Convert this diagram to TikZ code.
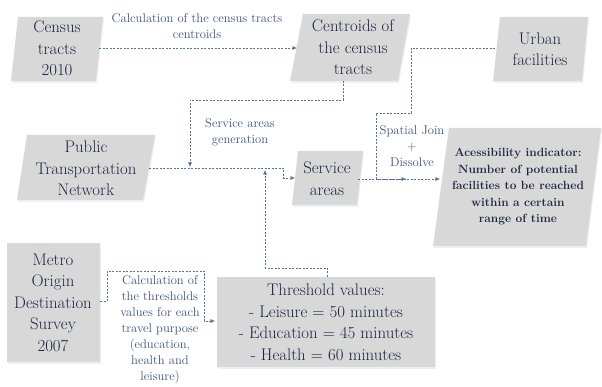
\documentclass[tikz,border=0pt]{standalone}
\usetikzlibrary{arrows.meta}
\definecolor{boxfill}{HTML}{D8D8D8}
\definecolor{boxshade}{HTML}{EDEFF3}
\definecolor{boxtext}{HTML}{1B2645}
\definecolor{linkcol}{HTML}{4F73A0}
\definecolor{labcol}{HTML}{3F5280}
\tikzset{
  shapebox/.style={fill=boxfill},
  shadebox/.style={fill=boxshade},
  boxtxt/.style={text=boxtext, font=\fontsize{16.8}{21.5}\selectfont, align=center, inner sep=0pt},
  boldtxt/.style={text=boxtext, font=\fontsize{11.9}{16.5}\selectfont\bfseries, align=center, inner sep=0pt},
  labtxt/.style={text=labcol, font=\fontsize{12.6}{16}\selectfont, align=center, inner sep=0pt},
  link/.style={draw=linkcol, line width=0.7pt, dash pattern=on 2pt off 1.5pt},
  arr/.style={link, -{Latex[length=4.5pt,width=4pt]}},
}
\begin{document}
\begin{tikzpicture}[x=1pt,y=-1pt]
\useasboundingbox (0,0) rectangle (602,387);
% shadows
\fill[shadebox] (12,83) -- (97,83) -- (104,19) -- (19,19) -- cycle;
\fill[shadebox] (291,83) -- (399,83) -- (411,16) -- (304,16) -- cycle;
\fill[shadebox] (494,83) -- (583,83) -- (589,19) -- (501,19) -- cycle;
\fill[shadebox] (18,202) -- (144,202) -- (156,137) -- (28,137) -- cycle;
\fill[shadebox] (293,207) -- (358,207) -- (364,153) -- (299,153) -- cycle;
\fill[shadebox] (434,248) -- (587,248) -- (602,130) -- (450,130) -- cycle;
\fill[shadebox] (8,245) rectangle (101,364);
\fill[shadebox] (218,279) rectangle (436,369);
% boxes
\fill[shapebox] (11,81) -- (96,81) -- (103,17) -- (18,17) -- cycle;
\fill[shapebox] (290,81) -- (398,81) -- (410,14) -- (303,14) -- cycle;
\fill[shapebox] (493,81) -- (582,81) -- (588,17) -- (500,17) -- cycle;
\fill[shapebox] (17,200) -- (143,200) -- (155,135) -- (27,135) -- cycle;
\fill[shapebox] (292,205) -- (357,205) -- (363,151) -- (298,151) -- cycle;
\fill[shapebox] (433,246) -- (586,246) -- (601,128) -- (449,128) -- cycle;
\fill[shapebox] (7,243) rectangle (100,362);
\fill[shapebox] (217,277) rectangle (435,367);
% texts
\node[boxtxt] (census) at (57,48.5) {Census\\tracts\\2010};
\node[boxtxt] (centroids) at (353,47.5) {Centroids of\\the census\\tracts};
\node[boxtxt] (urban) at (540,49) {Urban\\facilities};
\node[boxtxt] (ptn) at (86,168.5) {Public\\Transportation\\Network};
\node[boxtxt] (service) at (327,178.5) {Service\\areas};
\node[boldtxt] (access) at (518,187) {Acessibility indicator:\\Number of potential\\facilities to be reached\\within a certain\\range of time};
\node[boxtxt] (metro) at (53,302.5) {Metro\\Origin\\Destination\\Survey\\2007};
\node[boxtxt] (threshold) at (326,322.5) {Threshold values:\\- Leisure = 50 minutes\\- Education = 45 minutes\\- Health = 60 minutes};
% labels
\node[labtxt] (lab1) at (197,26) {Calculation of the census tracts\\centroids};
\node[labtxt] (lab2) at (240,132.5) {Service areas\\generation};
\node[labtxt] (lab3) at (412,146) {Spatial Join\\+\\Dissolve};
\node[labtxt] (lab4) at (160,330) {Calculation of\\the thresholds\\values for each\\travel purpose\\(education,\\health and\\leisure)};
% connector end points
\coordinate (censusR) at (99,48);
\coordinate (centL) at (297,48);
\coordinate (centB) at (343,81);
\coordinate (ptnR) at (149,168);
\coordinate (serviceL) at (295,178);
\coordinate (serviceR) at (358,179);
\coordinate (accessL) at (440,179);
\coordinate (urbanL) at (495,48);
\coordinate (joinPt) at (406,179);
\coordinate (thrT) at (327,277);
\coordinate (thrL) at (215,321);
\coordinate (metroR) at (100,301);
\coordinate (ptnLineA) at (190,167);
\coordinate (ptnLineB) at (265,170);
% connectors
\draw[arr] (censusR) -- (centL);
\draw[arr] (centB) -- (343,100) -- (190,100) -- (ptnLineA);
\draw[arr] (ptnR) -- (283,168) -- (283,178) -- (serviceL);
\draw[arr] (thrT) -- (327,268) -- (265,268) -- (ptnLineB);
\draw[arr] (serviceR) -- (accessL);
\draw[arr] (urbanL) -- (411,48) -- (411,113) -- (376,113) -- (376,179) -- (joinPt);
\draw[arr] (metroR) -- (107,301) -- (107,271) -- (204,271) -- (204,321) -- (thrL);
\end{tikzpicture}
\end{document}
